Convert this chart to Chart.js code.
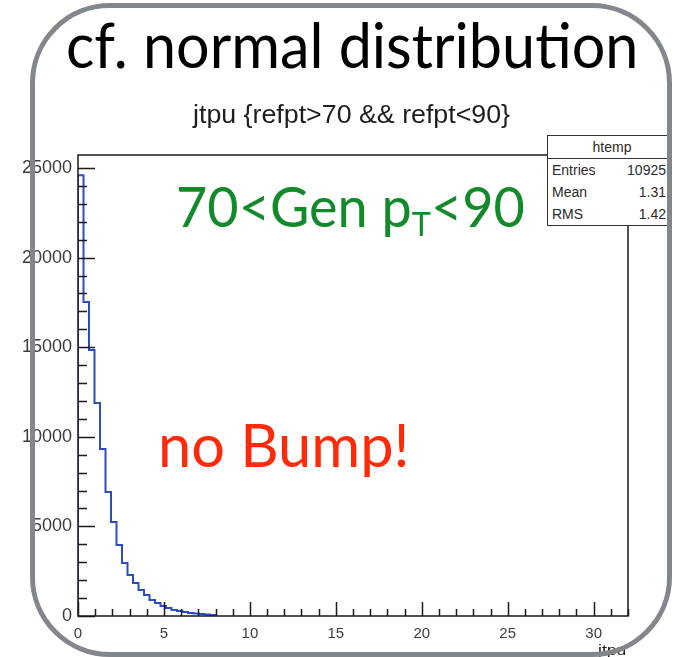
<!DOCTYPE html>
<html>
<head>
<meta charset="utf-8">
<script src="https://cdn.jsdelivr.net/npm/chart.js@4.4.1/dist/chart.umd.min.js"></script>
<style>
  html, body { margin: 0; padding: 0; background: #fff; }
  #page { position: relative; width: 673px; height: 657px; overflow: hidden; }
  #plot { position: absolute; left: 0; top: 0; z-index: 1; }
  .txt { position: absolute; white-space: nowrap; line-height: 1; transform-origin: 0 0; z-index: 2; }
  .root { font-family: "Liberation Sans", Arial, sans-serif; color: #1e1e1e; }
  .big { font-family: Lato, "Open Sans", sans-serif; }
  #frame {
    position: absolute; left: 30px; top: 3px; width: 632px; height: 644px;
    border: 5px solid #83868a; border-radius: 80px; z-index: 3;
  }
  #statsClip { position: absolute; left: 540px; top: 130px; width: 127px; height: 100px; overflow: hidden; z-index: 2; }
  #stats {
    position: absolute; left: 7px; top: 5px; width: 130px; height: 91px;
    border: 1.5px solid #333; background: #fff; box-sizing: border-box;
    font: 14px "Liberation Sans", Arial, sans-serif; color: #2a2a2a;
  }
  #stats .hdr { height: 22px; line-height: 22px; text-align: center; border-bottom: 1.5px solid #333; }
  #stats .row { height: 22px; line-height: 22px; position: relative; }
  #stats .row span.k { position: absolute; left: 4px; }
  #stats .row span.v { position: absolute; right: 10px; }
  #cut { font-size: 0.6em; position: relative; top: 0.28em; }
</style>
</head>
<body>
<div id="page">
  <canvas id="plot" width="673" height="657"></canvas>

  <div id="title" class="txt big" style="font-size:62px;color:#000">cf. normal distribution</div>
  <div id="htitle" class="txt root" style="font-size:25px">jtpu {refpt&gt;70 &amp;&amp; refpt&lt;90}</div>
  <div id="xtitle" class="txt root" style="font-size:15px;z-index:1">jtpu</div>
  <div id="genCut" class="txt big" style="font-size:56px;color:#138a2a">70&lt;Gen p<span id="cut">T</span>&lt;90</div>
  <div id="noBump" class="txt big" style="font-size:60px;color:#ff2a0a">no Bump!</div>

  <div id="statsClip">
    <div id="stats">
      <div class="hdr">htemp</div>
      <div class="row"><span class="k">Entries</span><span class="v" id="vEntries"></span></div>
      <div class="row"><span class="k">Mean</span><span class="v" id="vMean"></span></div>
      <div class="row"><span class="k">RMS</span><span class="v" id="vRms"></span></div>
    </div>
  </div>

  <div id="frame"></div>
</div>

<script>
// histogram binning of jtpu
const binLow = 0;
const binHigh = 32;
const binWidth = 0.32;

// bin contents, starting at the first bin (remaining bins empty)
const counts = [24600, 17520, 14840, 11890, 9320, 6920, 5245, 3960, 2960, 2290,
                1840, 1450, 1170, 890, 725, 560, 450, 335, 280, 220,
                170, 140, 110, 80, 60];

// stats box
const statValues = ['10925', '1.31', '1.42'];

// axis ticks
const yMax = 25730;
const yLabels = [0, 5000, 10000, 15000, 20000, 25000];
const xLabels = [0, 5, 10, 15, 20, 25, 30];
const yMajor = 5000, yMinor = 1000;
const xMajor = 5, xMinor = 1;

document.getElementById('vEntries').textContent = statValues[0];
document.getElementById('vMean').textContent = statValues[1];
document.getElementById('vRms').textContent = statValues[2];

// step outline: (x of left edge, content), closed down to zero at the end
const steps = [{ x: binLow, y: 0 }];
counts.forEach((c, i) => steps.push({ x: binLow + i * binWidth, y: c }));
steps.push({ x: binLow + counts.length * binWidth, y: 0 });

// ROOT-like frame with ticks pointing inward
const rootFrame = {
  id: 'rootFrame',
  afterDatasetsDraw(chart) {
    const { ctx, chartArea: a, scales: { x, y } } = chart;
    ctx.save();
    ctx.strokeStyle = '#1a1a1a';
    ctx.lineWidth = 1.5;
    ctx.strokeRect(a.left, a.top, a.right - a.left, a.bottom - a.top);
    ctx.beginPath();
    for (let v = 0; v <= yMax; v += yMinor) {
      const py = Math.round(y.getPixelForValue(v)) + 0.5;
      const len = v % yMajor === 0 ? 17 : 9;
      ctx.moveTo(a.left, py);
      ctx.lineTo(a.left + len, py);
    }
    for (let v = binLow; v <= binHigh; v += xMinor) {
      const px = Math.round(x.getPixelForValue(v)) + 0.5;
      const len = v % xMajor === 0 ? 14 : 7;
      ctx.moveTo(px, a.bottom);
      ctx.lineTo(px, a.bottom - len);
    }
    ctx.stroke();
    ctx.restore();
  }
};

new Chart(document.getElementById('plot'), {
  type: 'line',
  data: {
    datasets: [
      {
        data: steps,
        stepped: true,
        borderColor: '#2c4cc2',
        borderWidth: 2,
        pointRadius: 0,
        fill: false,
      }
    ]
  },
  options: {
    responsive: false,
    animation: false,
    devicePixelRatio: 1,
    layout: { padding: { top: 155, right: 45, left: 0, bottom: 0 } },
    plugins: { legend: { display: false }, tooltip: { enabled: false } },
    scales: {
      x: {
        type: 'linear',
        min: binLow,
        max: binHigh,
        grid: { display: false, drawTicks: false },
        border: { display: false },
        afterBuildTicks(s) { s.ticks = xLabels.map(v => ({ value: v })); },
        ticks: {
          padding: 9, maxRotation: 0, autoSkip: false,
          callback: v => String(v),
          color: '#3c3c3c', font: { family: 'Liberation Sans', size: 15 }
        },
        afterFit(s) { s.height = 41; }
      },
      y: {
        min: 0,
        max: yMax,
        grid: { display: false, drawTicks: false },
        border: { display: false },
        afterBuildTicks(s) { s.ticks = yLabels.map(v => ({ value: v })); },
        ticks: {
          padding: 6, autoSkip: false,
          callback: v => String(v),
          color: '#3c3c3c', font: { family: 'Liberation Sans', size: 18 }
        },
        afterFit(s) { s.width = 78; }
      }
    }
  },
  plugins: [rootFrame]
});

// put a text block with its baseline at y, stretched to the given width
function place(id, left, baseline, width) {
  const el = document.getElementById(id);
  const mark = document.createElement('span');
  mark.style.cssText = 'display:inline-block;width:0;height:0;';
  el.appendChild(mark);
  const base = mark.offsetTop;
  const w = el.offsetWidth;
  el.style.left = left + 'px';
  el.style.top = (baseline - base) + 'px';
  el.style.transform = 'scaleX(' + (width / w) + ')';
}

place('title', 66, 68, 572);
place('htitle', 193, 123, 317);
place('xtitle', 598, 655, 28);
place('genCut', 176, 227, 349);
place('noBump', 158, 467, 252);
</script>
</body>
</html>
